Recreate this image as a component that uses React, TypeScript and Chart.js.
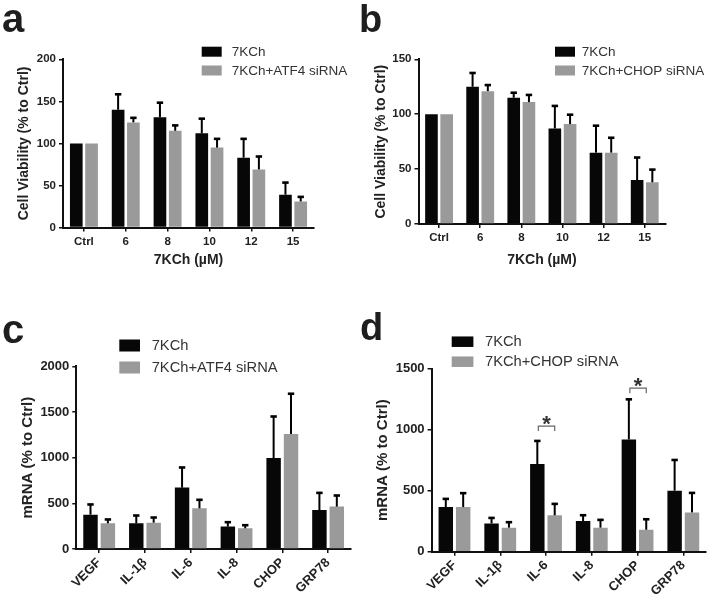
import React, { useEffect, useRef } from 'react';
import { Chart, registerables } from 'chart.js';

Chart.register(...registerables);

// ---------- data ----------
const doseLabels = ['Ctrl', '6', '8', '10', '12', '15'];
const geneLabels = ['VEGF', 'IL-1β', 'IL-6', 'IL-8', 'CHOP', 'GRP78'];

const seriesA1Name = '7KCh';
const seriesA2Name = '7KCh+ATF4 siRNA';
const seriesB2Name = '7KCh+CHOP siRNA';

// panel a: cell viability, ATF4 siRNA
const aKCh = [100, 140, 131, 112, 83, 39];
const aKChSD = [0, 19, 18, 18, 23, 15];
const aATF4 = [100, 125, 115, 95, 69, 31];
const aATF4SD = [0, 6, 7, 11, 16, 6];

// panel b: cell viability, CHOP siRNA
const bKCh = [100, 125, 115, 87, 65, 40];
const bKChSD = [0, 13, 5, 21, 25, 21];
const bCHOP = [100, 121, 111, 91, 65, 38];
const bCHOPSD = [0, 6, 7, 9, 14, 12];

// panel c: mRNA, ATF4 siRNA
const cKCh = [376, 281, 672, 245, 996, 427];
const cKChSD = [117, 91, 226, 54, 460, 193];
const cATF4 = [281, 288, 445, 226, 1259, 464];
const cATF4SD = [48, 62, 99, 40, 446, 127];

// panel d: mRNA, CHOP siRNA
const dKCh = [366, 232, 718, 251, 920, 500];
const dKChSD = [71, 49, 194, 52, 333, 256];
const dCHOP = [366, 197, 298, 197, 180, 322];
const dCHOPSD = [118, 49, 98, 68, 90, 164];

// significance brackets in panel d
const dSigCategories = ['IL-6', 'CHOP'];
const dSigValues = [1030, 1340];

// axis ticks
const viabilityTicksA = { max: 200, step: 50 };
const viabilityTicksB = { max: 150, step: 50 };
const mrnaTicksC = { max: 2000, step: 500 };
const mrnaTicksD = { max: 1500, step: 500 };

// ---------- styles ----------
const BLACK = '#070707';
const GRAY = '#9a9a9a';
const FONT = "'Liberation Sans', Arial, Helvetica, sans-serif";
const TEXT = '#222222';

type Panel = {
  id: string;
  x: number; y: number; w: number; h: number;
  area: { left: number; top: number; right: number; bottom: number };
  labels: string[];
  series: { name: string; values: number[]; sd: number[]; color: string }[];
  yMax: number; yStep: number;
  yTitle: string; yTitleSize: number; yTitleX: number;
  xTitle?: string; xTitleSize?: number; xTitleY?: number;
  tickSize: number; rot: number; xTickPad: number;
  catPct: number; barPct: number;
  legend: { swX: number; swW: number; swH: number; rows: number[]; textX: number; size: number };
  letter: { text: string; x: number; y: number; size: number };
  sig?: { cats: string[]; values: number[] };
};

const panels: Panel[] = [
  {
    id: 'a', x: 0, y: 0, w: 355, h: 290,
    area: { left: 63, top: 59.3, right: 314, bottom: 227.5 },
    labels: doseLabels,
    series: [
      { name: seriesA1Name, values: aKCh, sd: aKChSD, color: BLACK },
      { name: seriesA2Name, values: aATF4, sd: aATF4SD, color: GRAY },
    ],
    yMax: viabilityTicksA.max, yStep: viabilityTicksA.step,
    yTitle: 'Cell Viability (% to Ctrl)', yTitleSize: 14, yTitleX: 24,
    xTitle: '7KCh (µM)', xTitleSize: 14, xTitleY: 260,
    tickSize: 11.5, rot: 0, xTickPad: 3,
    catPct: 0.73, barPct: 0.83,
    legend: { swX: 201.7, swW: 20, swH: 10, rows: [51.7, 70.5], textX: 231.7, size: 13.5 },
    letter: { text: 'a', x: 2, y: 31.7, size: 40 },
  },
  {
    id: 'b', x: 355, y: 0, w: 356, h: 290,
    area: { left: 63.5, top: 59.3, right: 310.3, bottom: 224 },
    labels: doseLabels,
    series: [
      { name: seriesA1Name, values: bKCh, sd: bKChSD, color: BLACK },
      { name: seriesB2Name, values: bCHOP, sd: bCHOPSD, color: GRAY },
    ],
    yMax: viabilityTicksB.max, yStep: viabilityTicksB.step,
    yTitle: 'Cell Viability (% to Ctrl)', yTitleSize: 14, yTitleX: 26,
    xTitle: '7KCh (µM)', xTitleSize: 14, xTitleY: 260,
    tickSize: 11.5, rot: 0, xTickPad: 3,
    catPct: 0.74, barPct: 0.83,
    legend: { swX: 200, swW: 20, swH: 10, rows: [51.7, 70.5], textX: 226.7, size: 13.5 },
    letter: { text: 'b', x: 4, y: 31.7, size: 38 },
  },
  {
    id: 'c', x: 0, y: 290, w: 355, h: 311,
    area: { left: 76.3, top: 76.3, right: 351, bottom: 259 },
    labels: geneLabels,
    series: [
      { name: seriesA1Name, values: cKCh, sd: cKChSD, color: BLACK },
      { name: seriesA2Name, values: cATF4, sd: cATF4SD, color: GRAY },
    ],
    yMax: mrnaTicksC.max, yStep: mrnaTicksC.step,
    yTitle: 'mRNA (% to Ctrl)', yTitleSize: 15, yTitleX: 28,
    tickSize: 13, rot: 45, xTickPad: 2,
    catPct: 0.76, barPct: 0.83,
    legend: { swX: 119.3, swW: 20.7, swH: 12, rows: [55.5, 77.5], textX: 151.7, size: 14.7 },
    letter: { text: 'c', x: 2, y: 53.3, size: 40 },
  },
  {
    id: 'd', x: 355, y: 290, w: 356, h: 311,
    area: { left: 76.6, top: 78.7, right: 351.2, bottom: 261.7 },
    labels: geneLabels,
    series: [
      { name: seriesA1Name, values: dKCh, sd: dKChSD, color: BLACK },
      { name: seriesB2Name, values: dCHOP, sd: dCHOPSD, color: GRAY },
    ],
    yMax: mrnaTicksD.max, yStep: mrnaTicksD.step,
    yTitle: 'mRNA (% to Ctrl)', yTitleSize: 15, yTitleX: 28,
    tickSize: 13, rot: 45, xTickPad: 2,
    catPct: 0.76, barPct: 0.83,
    legend: { swX: 96.7, swW: 21.7, swH: 10.5, rows: [51.7, 71.7], textX: 130, size: 14.7 },
    letter: { text: 'd', x: 5, y: 50, size: 38 },
    sig: { cats: dSigCategories, values: dSigValues },
  },
];

// ---------- plugins ----------
const errorBarPlugin = {
  id: 'errorBars',
  afterDatasetsDraw(chart: any) {
    const ctx = chart.ctx;
    const ys = chart.scales.y;
    chart.data.datasets.forEach((ds: any, i: number) => {
      const sd: number[] = ds.errorSD;
      if (!sd) return;
      const meta = chart.getDatasetMeta(i);
      meta.data.forEach((bar: any, j: number) => {
        const e = sd[j];
        if (!e) return;
        const top = ys.getPixelForValue(ds.data[j] + e);
        ctx.save();
        ctx.strokeStyle = '#000';
        ctx.lineWidth = 2;
        ctx.beginPath();
        ctx.moveTo(bar.x, bar.y);
        ctx.lineTo(bar.x, top);
        ctx.stroke();
        ctx.lineWidth = 2.6;
        ctx.beginPath();
        ctx.moveTo(bar.x - 3.2, top + 0.5);
        ctx.lineTo(bar.x + 3.2, top + 0.5);
        ctx.stroke();
        ctx.restore();
      });
    });
  },
};

const decoPlugin = {
  id: 'deco',
  afterDraw(chart: any) {
    const p: Panel = chart.options.plugins.deco.panel;
    const ctx = chart.ctx;
    ctx.save();
    // panel letter
    ctx.fillStyle = '#1e1e1e';
    ctx.font = `bold ${p.letter.size}px ${FONT}`;
    ctx.textBaseline = 'alphabetic';
    ctx.textAlign = 'left';
    ctx.fillText(p.letter.text, p.letter.x, p.letter.y);
    // legend
    const L = p.legend;
    ctx.font = `${L.size}px ${FONT}`;
    ctx.textBaseline = 'middle';
    p.series.forEach((s, i) => {
      ctx.fillStyle = s.color;
      ctx.fillRect(L.swX, L.rows[i] - L.swH / 2, L.swW, L.swH);
      ctx.fillStyle = '#333';
      ctx.fillText(s.name, L.textX, L.rows[i] + 0.5);
    });
    // significance
    if (p.sig) {
      const ys = chart.scales.y;
      const m0 = chart.getDatasetMeta(0);
      const m1 = chart.getDatasetMeta(1);
      p.sig.cats.forEach((cat, k) => {
        const idx = p.labels.indexOf(cat);
        if (idx < 0) return;
        const x0 = m0.data[idx].x + 1;
        const x1 = m1.data[idx].x;
        const yy = ys.getPixelForValue(p.sig!.values[k]);
        ctx.strokeStyle = '#666';
        ctx.lineWidth = 1.2;
        ctx.beginPath();
        ctx.moveTo(x0, yy + 5);
        ctx.lineTo(x0, yy);
        ctx.lineTo(x1, yy);
        ctx.lineTo(x1, yy + 5);
        ctx.stroke();
        ctx.fillStyle = '#333';
        ctx.font = `bold 22px ${FONT}`;
        ctx.textAlign = 'center';
        ctx.textBaseline = 'alphabetic';
        ctx.fillText('*', (x0 + x1) / 2, yy - 7.7 + 12.2);
      });
    }
    ctx.restore();
  },
};

function makeChart(canvas: HTMLCanvasElement, p: Panel) {
  const tickFont = { family: FONT, size: p.tickSize, weight: 'bold' as const };
  const yTitleLH = p.yTitleSize * 1.2;
  const xTitleLH = (p.xTitleSize || 14) * 1.2;
  return new Chart(canvas, {
    type: 'bar',
    data: {
      labels: p.labels,
      datasets: p.series.map((s) => ({
        label: s.name,
        data: s.values,
        backgroundColor: s.color,
        borderWidth: 0,
        categoryPercentage: p.catPct,
        barPercentage: p.barPct,
        errorSD: s.sd,
      })) as any,
    },
    options: {
      responsive: false,
      animation: false,
      events: [],
      layout: { padding: { left: 0, top: p.area.top, right: p.w - p.area.right, bottom: 0 } },
      plugins: {
        legend: { display: false },
        tooltip: { enabled: false },
        deco: { panel: p },
      } as any,
      scales: {
        x: {
          grid: { display: true, drawOnChartArea: false, drawTicks: true, tickLength: 4, offset: false, color: '#111', lineWidth: 1.5 },
          border: { display: true, color: '#111', width: 2 },
          ticks: {
            font: tickFont, color: TEXT, padding: p.xTickPad, autoSkip: false,
            minRotation: p.rot, maxRotation: p.rot,
          },
          title: p.xTitle
            ? {
                display: true, text: p.xTitle, color: TEXT,
                font: { family: FONT, size: p.xTitleSize, weight: 'bold' },
                padding: { top: 0, bottom: p.h - (p.xTitleY || 0) - xTitleLH / 2 },
              }
            : { display: false },
          afterFit: (s: any) => { s.height = p.h - p.area.bottom; },
        },
        y: {
          min: 0, max: p.yMax,
          ticks: {
            stepSize: p.yStep, font: tickFont, color: TEXT, padding: 3,
            callback: (v: any) => String(v),
          },
          grid: { display: true, drawOnChartArea: false, drawTicks: true, tickLength: 4, color: '#111', lineWidth: 1.5 },
          border: { display: true, color: '#111', width: 2 },
          title: {
            display: true, text: p.yTitle, color: TEXT,
            font: { family: FONT, size: p.yTitleSize, weight: 'bold' },
            padding: { top: p.yTitleX - yTitleLH / 2, bottom: 0 },
          },
          afterFit: (s: any) => { s.width = p.area.left; },
        },
      } as any,
    },
    plugins: [errorBarPlugin, decoPlugin],
  });
}

export default function App() {
  const r0 = useRef<HTMLCanvasElement>(null);
  const r1 = useRef<HTMLCanvasElement>(null);
  const r2 = useRef<HTMLCanvasElement>(null);
  const r3 = useRef<HTMLCanvasElement>(null);
  const refs = [r0, r1, r2, r3];
  useEffect(() => {
    const charts = panels.map((p, i) => makeChart(refs[i].current as HTMLCanvasElement, p));
    return () => charts.forEach((c) => c.destroy());
  }, []);
  return (
    <div style={{ position: 'absolute', left: 0, top: 0, width: 711, height: 601, background: '#fff' }}>
      {panels.map((p, i) => (
        <canvas
          key={p.id}
          ref={refs[i]}
          width={p.w}
          height={p.h}
          style={{ position: 'absolute', left: p.x, top: p.y, width: p.w, height: p.h }}
        />
      ))}
    </div>
  );
}
